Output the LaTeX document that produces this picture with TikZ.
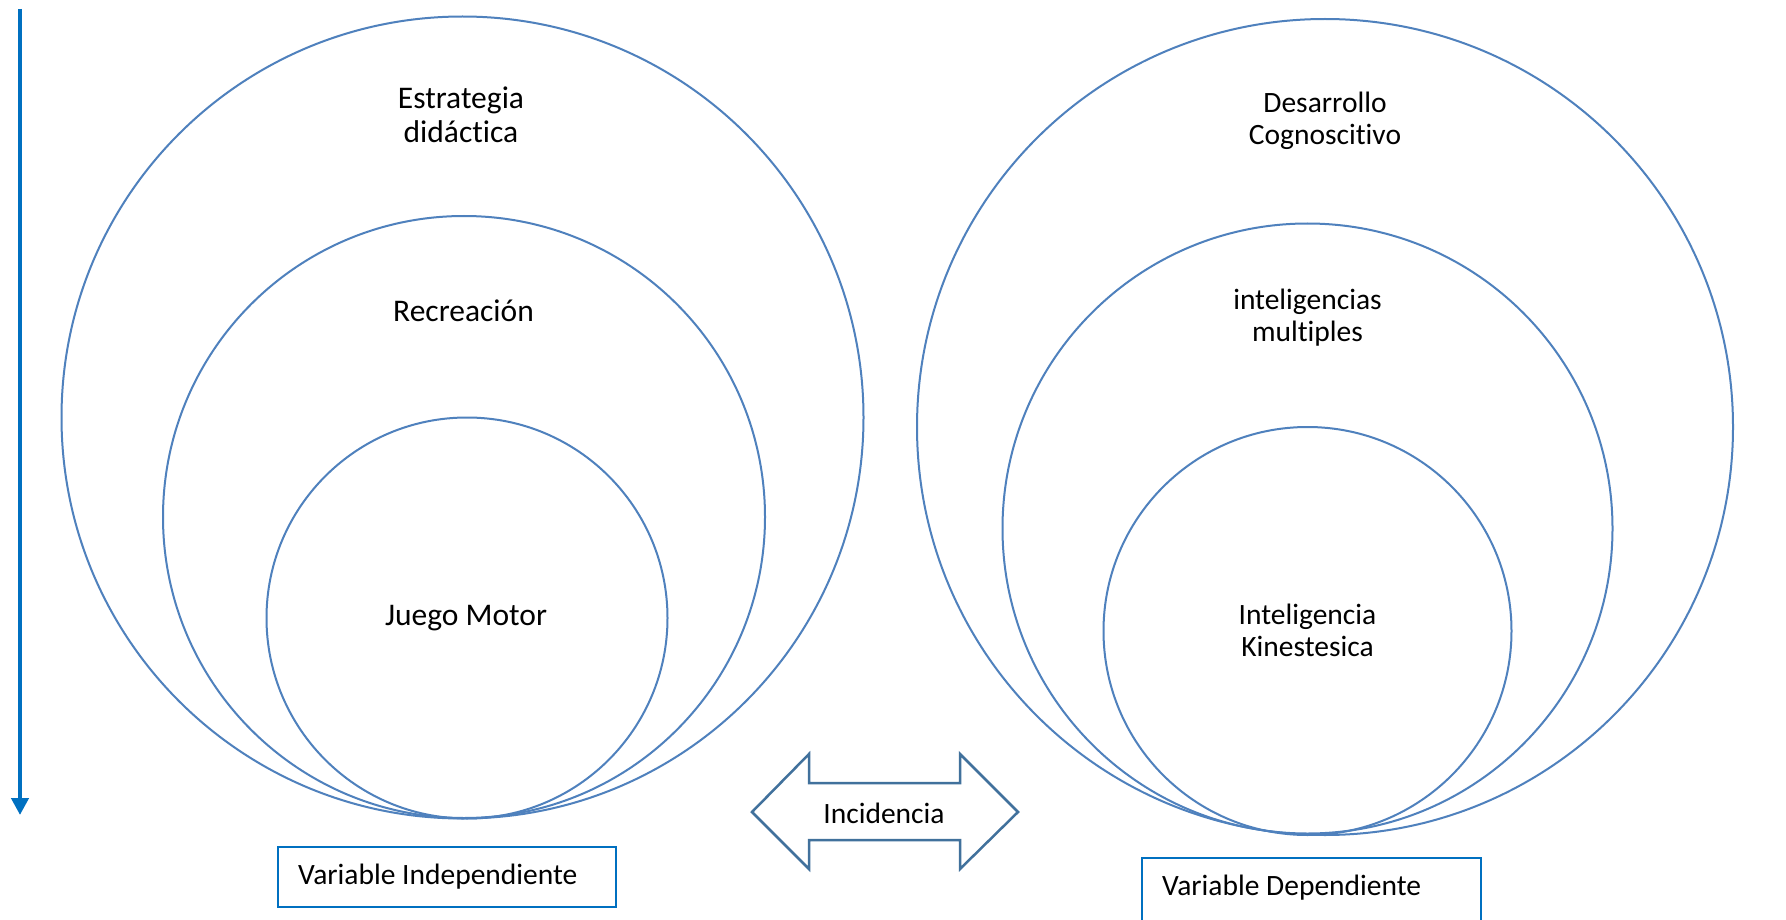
\documentclass[tikz,border=0pt]{standalone}
\usepackage{fontspec}
\setmainfont{Carlito}[Ligatures={NoCommon}]
\usetikzlibrary{arrows.meta}
\definecolor{circblue}{RGB}{79,129,189}
\definecolor{arrblue}{RGB}{65,113,156}
\definecolor{boxblue}{RGB}{0,112,192}
\tikzset{
  ring/.style={draw=circblue, line width=2pt, circle, inner sep=0pt},
  lbl/.style={align=center, font=\fontsize{31.5}{34}\selectfont, inner sep=0pt},
  lbls/.style={align=center, font=\fontsize{29.5}{32}\selectfont, inner sep=0pt},
  varbox/.style={draw=boxblue, line width=1.6pt},
}
\begin{document}
\begin{tikzpicture}[x=1pt,y=-1pt]
\clip (0,0) rectangle (1786,920);
\fill[white] (0,0) rectangle (1786,920);
% left circles
\node[ring, minimum size=802pt] (L1) at (462.5,417.5) {};
\node[ring, minimum size=602pt] (L2) at (464,517) {};
\node[ring, minimum size=401pt] (L3) at (467,618) {};
% right circles
\node[ring, minimum size=816pt] (R1) at (1325,427) {};
\node[ring, minimum size=610pt] (R2) at (1307.5,528.5) {};
\node[ring, minimum size=408pt] (R3) at (1307.5,631) {};
% labels
\node[lbl] (t1) at (461,115) {Estrategia\\did\'actica};
\node[lbl] (t2) at (463.5,311) {Recreaci\'on};
\node[lbl] (t3) at (466,618) {Juego Motor};
\node[lbls] (t4) at (1325,121) {Desarrollo\\Cognoscitivo};
\node[lbls] (t5) at (1307.5,318) {inteligencias\\multiples};
\node[lbls] (t6) at (1307.5,630) {Inteligencia\\Kinestesica};
% boxes
\draw[varbox] (278,847) rectangle (616,907);
\node[lbls, anchor=west] (b1) at (298,877) {Variable Independiente};
\draw[varbox] (1142,858) rectangle (1481,940);
\node[lbls, anchor=west] (b2) at (1162,888) {Variable Dependiente};
% double arrow
\draw[draw=arrblue, line width=2.5pt, line join=miter, fill=white]
  (752,812) -- (809,754) -- (809,783) -- (960,783) -- (960,754) -- (1018,812)
  -- (960,869) -- (960,840) -- (809,840) -- (809,869) -- cycle;
\node[lbls] (inc) at (884,813) {Incidencia};
% left vertical arrow
\coordinate (atop) at (20,9);
\coordinate (abot) at (20,815);
\draw[boxblue, line width=4.5pt, -{Triangle[width=17pt,length=17pt]}] (atop) -- (abot);
\end{tikzpicture}
\end{document}
